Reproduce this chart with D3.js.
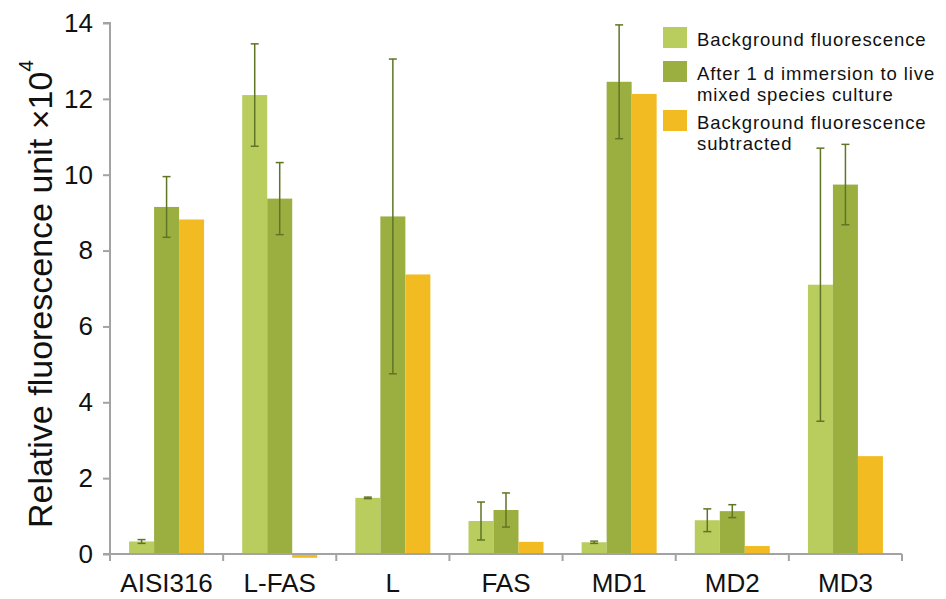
<!DOCTYPE html>
<html>
<head>
<meta charset="utf-8">
<script src="https://cdn.jsdelivr.net/npm/d3@7/dist/d3.min.js"></script>
<style>
  html, body { margin: 0; padding: 0; background: #ffffff; }
  svg { display: block; }
</style>
</head>
<body>
<svg id="chart" width="946" height="599"></svg>
<script>
// Surfaces tested
const categories = ["AISI316", "L-FAS", "L", "FAS", "MD1", "MD2", "MD3"];

// Series names (legend text, one array of lines each)
const seriesNames = [
  ["Background fluorescence"],
  ["After 1 d immersion to live", "mixed species culture"],
  ["Background fluorescence", "subtracted"]
];

// Values (×10^4 relative fluorescence units)
const background     = [0.33, 12.1, 1.48, 0.87, 0.31, 0.89, 7.1];
const backgroundErr  = [0.05, 1.35, 0.02, 0.5, 0.03, 0.3, 3.6];
const afterImmersion = [9.15, 9.37, 8.9, 1.16, 12.45, 1.13, 9.74];
const afterErr       = [0.8, 0.95, 4.15, 0.45, 1.5, 0.17, 1.06];
const subtracted     = [8.82, -0.1, 7.37, 0.32, 12.13, 0.21, 2.58];

const yTicks = [0, 2, 4, 6, 8, 10, 12, 14];

const colors = ["#b9cc5e", "#9baf41", "#f2bb21"];
const errColor = "#5f7526";
const axisColor = "#a3a3a3";
const sansFont = "Liberation Sans, Arial, sans-serif";

const svg = d3.select("#chart");
const plotLeft = 110, plotRight = 902, plotTop = 23, plotBottom = 554;

const x = d3.scaleBand().domain(categories).range([plotLeft, plotRight]).paddingInner(0).paddingOuter(0);
const sub = d3.scaleBand().domain([0, 1, 2]).range([0, 75]);
const groupOffset = (x.bandwidth() - 75) / 2;
const y = d3.scaleLinear().domain([0, 14]).range([plotBottom, plotTop]);

const series = [
  { values: background, err: backgroundErr },
  { values: afterImmersion, err: afterErr },
  { values: subtracted, err: null }
];

// Bars
series.forEach((s, si) => {
  svg.append("g").selectAll("rect")
    .data(categories)
    .join("rect")
    .attr("x", d => x(d) + groupOffset + sub(si))
    .attr("width", sub.bandwidth())
    .attr("y", (d, i) => y(Math.max(0, s.values[i])))
    .attr("height", (d, i) => Math.abs(y(s.values[i]) - y(0)))
    .attr("fill", colors[si]);
});

// Error bars
series.forEach((s, si) => {
  if (!s.err) return;
  const g = svg.append("g").attr("stroke", errColor).attr("stroke-width", 1.5).attr("fill", "none");
  categories.forEach((d, i) => {
    const cx = x(d) + groupOffset + sub(si) + sub.bandwidth() / 2;
    const hi = y(s.values[i] + s.err[i]);
    const lo = y(s.values[i] - s.err[i]);
    g.append("line").attr("x1", cx).attr("x2", cx).attr("y1", hi).attr("y2", lo);
    g.append("line").attr("x1", cx - 4).attr("x2", cx + 4).attr("y1", hi).attr("y2", hi);
    g.append("line").attr("x1", cx - 4).attr("x2", cx + 4).attr("y1", lo).attr("y2", lo);
  });
});

// Y axis
const yAxis = svg.append("g")
  .attr("transform", `translate(${plotLeft},0)`)
  .call(d3.axisLeft(y).tickValues(yTicks).tickSize(7).tickSizeOuter(0).tickPadding(10));
yAxis.select(".domain").attr("stroke", axisColor).attr("stroke-width", 2)
  .attr("d", `M-7,${plotTop}H0V${plotBottom}`);
yAxis.selectAll(".tick line").attr("stroke", axisColor).attr("stroke-width", 2);
yAxis.selectAll(".tick text")
  .attr("font-family", sansFont)
  .attr("font-size", 26).attr("fill", "#111");

// X axis with ticks at the category boundaries
const xAxis = svg.append("g").attr("transform", `translate(0,${plotBottom})`);
xAxis.append("line").attr("x1", plotLeft - 7).attr("x2", plotRight).attr("y1", 0).attr("y2", 0)
  .attr("stroke", axisColor).attr("stroke-width", 2);
const boundaries = categories.map(d => x(d)).concat([plotRight]);
xAxis.selectAll("line.b").data(boundaries).join("line").attr("class", "b")
  .attr("x1", d => d).attr("x2", d => d).attr("y1", 0).attr("y2", 7)
  .attr("stroke", axisColor).attr("stroke-width", 2);
xAxis.selectAll("text").data(categories).join("text")
  .attr("x", d => x(d) + x.bandwidth() / 2)
  .attr("y", 38)
  .attr("text-anchor", "middle")
  .attr("font-family", sansFont)
  .attr("font-size", 26).attr("fill", "#111")
  .text(d => d);

// Y axis title
const title = svg.append("text")
  .attr("transform", "translate(52,294) rotate(-90)")
  .attr("text-anchor", "middle")
  .attr("font-family", sansFont)
  .attr("font-size", 34).attr("fill", "#111");
title.append("tspan").text("Relative fluorescence unit \u00d710");
title.append("tspan").attr("font-size", 21).attr("dy", -19).text("4");

// Legend
const legendY = [27, 61, 110];
const legend = svg.append("g");
seriesNames.forEach((lines, i) => {
  legend.append("rect").attr("x", 663).attr("y", legendY[i]).attr("width", 24).attr("height", 21)
    .attr("fill", colors[i]);
  const t = legend.append("text")
    .attr("x", 697).attr("y", legendY[i] + 19)
    .attr("font-family", sansFont)
    .attr("font-size", 18.5).attr("letter-spacing", 0.9).attr("fill", "#111");
  lines.forEach((line, j) => {
    t.append("tspan").attr("x", 697).attr("dy", j === 0 ? 0 : 21).text(line);
  });
});
</script>
</body>
</html>
